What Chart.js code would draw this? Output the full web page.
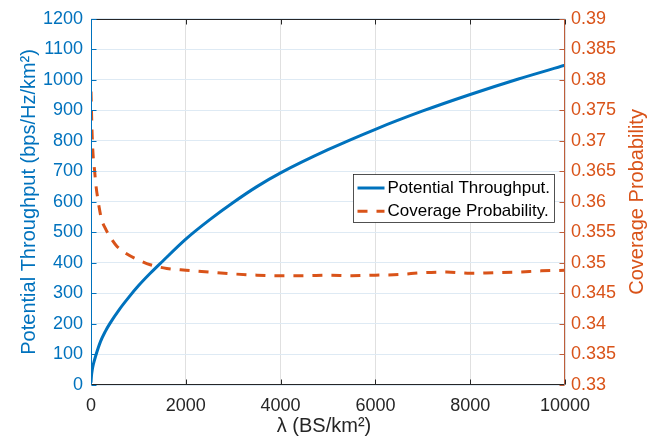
<!DOCTYPE html>
<html>
<head>
<meta charset="utf-8">
<title>Throughput and coverage vs BS density</title>
<script src="https://cdn.jsdelivr.net/npm/chart.js@4.4.1/dist/chart.umd.min.js"></script>
<style>
  html, body { margin: 0; padding: 0; background: #fff; }
  #wrap { width: 670px; height: 443px; }
</style>
</head>
<body>
<div id="wrap"><canvas id="plot" width="670" height="443"></canvas></div>
<script>
// BS density (BS/km^2) and the potential throughput curve
var lambdaThr  = [0, 10, 25, 50, 100, 200, 300, 400, 600, 800, 1000, 1250, 1500, 2000,
                  2500, 3000, 3500, 4000, 5000, 6000, 7000, 8000, 9000, 10000]
var throughput = [8, 30, 48, 68, 96, 142, 175, 202, 248, 288, 325, 366, 404, 478,
                  541, 598, 650, 695, 771, 838, 898, 952, 1002, 1048]

// coverage probability, sampled more densely near zero where it drops fast
var lambdaCov = [0, 10, 20, 35, 50, 75, 100, 130, 170, 220, 300, 400, 550, 750, 1000, 1250,
                 1600, 2000, 2500, 3000, 3500, 4000, 4500, 5000, 5500, 6000, 6500, 7000,
                 7500, 8000, 8500, 9000, 9500, 10000]
var coverage  = [0.3781, 0.3750, 0.3720, 0.3690, 0.3670, 0.3652, 0.3630, 0.3612, 0.3592,
                 0.3572, 0.3557, 0.3543, 0.3527, 0.3515, 0.3505, 0.3497, 0.3491, 0.3488,
                 0.3485, 0.3482, 0.3480, 0.3479, 0.3479, 0.3480, 0.3479, 0.3480, 0.3481,
                 0.3484, 0.3485, 0.3483, 0.3484, 0.3485, 0.3487, 0.3488]

var lambdaTicks = [0, 2000, 4000, 6000, 8000, 10000]
var thrTicks = [0, 100, 200, 300, 400, 500, 600, 700, 800, 900, 1000, 1100, 1200]
var covTicks = [0.33, 0.335, 0.34, 0.345, 0.35, 0.355, 0.36, 0.365, 0.37, 0.375, 0.38, 0.385, 0.39]

var BLUE = '#0072BD'
var ORANGE = '#D95319'
var DARK = '#262626'
var FONT = "'Liberation Sans', Arial, Helvetica, sans-serif"

Chart.defaults.font.family = FONT

function pts(xs, ys) {
  return xs.map(function (x, i) { return { x: x, y: ys[i] } })
}

// box, inward ticks, axis titles and the legend, drawn the matlab way
var axesDecor = {
  id: 'axesDecor',
  afterDraw: function (chart) {
    var ctx = chart.ctx, a = chart.chartArea, s = chart.scales
    var L = Math.round(a.left) + 0.5, R = Math.round(a.right) - 0.5
    var T = Math.round(a.top) + 0.5, B = Math.round(a.bottom) - 0.5
    var tk = 5
    ctx.save()
    ctx.lineWidth = 1

    function seg(x1, y1, x2, y2) {
      ctx.beginPath(); ctx.moveTo(x1, y1); ctx.lineTo(x2, y2); ctx.stroke()
    }

    ctx.strokeStyle = DARK
    seg(L, T, R, T)
    seg(L, B, R, B)
    s.x.ticks.forEach(function (t) {
      var px = Math.round(s.x.getPixelForValue(t.value)) + 0.5
      seg(px, B, px, B - tk)
      seg(px, T, px, T + tk)
    })

    ctx.strokeStyle = BLUE
    seg(L, T, L, B)
    s.y.ticks.forEach(function (t) {
      var py = Math.round(s.y.getPixelForValue(t.value)) + 0.5
      seg(L, py, L + tk, py)
    })

    ctx.strokeStyle = '#BE5E3A'
    seg(R, T, R, B)
    s.y1.ticks.forEach(function (t) {
      var py = Math.round(s.y1.getPixelForValue(t.value)) + 0.5
      seg(R, py, R - tk, py)
    })

    // axis titles
    var cy = (a.top + a.bottom) / 2
    ctx.font = '20px ' + FONT
    ctx.textAlign = 'center'
    ctx.textBaseline = 'alphabetic'

    ctx.fillStyle = DARK
    ctx.fillText('\u03bb (BS/km\u00b2)', (a.left + a.right) / 2 - 4, 432)

    ctx.save()
    ctx.translate(35, cy)
    ctx.rotate(-Math.PI / 2)
    ctx.fillStyle = BLUE
    ctx.fillText('Potential Throughput (bps/Hz/km\u00b2)', 0, 0)
    ctx.restore()

    ctx.save()
    ctx.translate(643, cy)
    ctx.rotate(-Math.PI / 2)
    ctx.fillStyle = ORANGE
    ctx.fillText('Coverage Probability', 0, 0)
    ctx.restore()

    // legend box inside the axes
    var bx = Math.round(a.left + 262) + 0.5, by = Math.round(a.top + 155) + 0.5
    var bw = 201, bh = 48
    ctx.fillStyle = '#fff'
    ctx.fillRect(bx, by, bw, bh)
    ctx.strokeStyle = DARK
    ctx.lineWidth = 0.8
    ctx.strokeRect(bx, by, bw, bh)

    ctx.font = '17px ' + FONT
    ctx.textAlign = 'left'
    ctx.textBaseline = 'middle'
    chart.data.datasets.forEach(function (ds, i) {
      var ry = by + 13.5 + i * 23.3
      ctx.save()
      ctx.strokeStyle = ds.borderColor
      ctx.lineWidth = ds.borderWidth
      ctx.setLineDash(ds.borderDash || [])
      seg(bx + 4, ry, bx + 31, ry)
      ctx.restore()
      ctx.fillStyle = '#000'
      ctx.fillText(ds.label, bx + 34, ry)
    })
    ctx.restore()
  }
}

new Chart(document.getElementById('plot').getContext('2d'), {
  type: 'line',
  data: {
    datasets: [
      {
        label: 'Potential Throughput.',
        data: pts(lambdaThr, throughput),
        yAxisID: 'y',
        borderColor: BLUE,
        borderWidth: 3,
        pointRadius: 0,
        cubicInterpolationMode: 'monotone',
        fill: false
      },
      {
        label: 'Coverage Probability.',
        data: pts(lambdaCov, coverage),
        yAxisID: 'y1',
        borderColor: ORANGE,
        borderWidth: 3,
        borderDash: [10, 9],
        pointRadius: 0,
        cubicInterpolationMode: 'monotone',
        fill: false
      }
    ]
  },
  options: {
    responsive: false,
    animation: false,
    devicePixelRatio: 1,
    layout: { padding: { top: 14, left: 0, right: 0, bottom: 0 } },
    plugins: { legend: { display: false }, tooltip: { enabled: false } },
    scales: {
      x: {
        type: 'linear',
        min: 0,
        max: 10000,
        afterBuildTicks: function (sc) { sc.ticks = lambdaTicks.map(function (v) { return { value: v } }) },
        afterFit: function (sc) { sc.height = 58 },
        grid: { color: '#e0e0e0', drawTicks: false },
        border: { display: false },
        ticks: {
          color: DARK,
          font: { size: 18 },
          padding: 10,
          maxRotation: 0,
          callback: function (v) { return String(v) }
        }
      },
      y: {
        position: 'left',
        min: 0,
        max: 1200,
        afterBuildTicks: function (sc) { sc.ticks = thrTicks.map(function (v) { return { value: v } }) },
        afterFit: function (sc) { sc.width = 91 },
        grid: { color: '#deeaf4', drawTicks: false },
        border: { display: false },
        ticks: {
          color: BLUE,
          font: { size: 18 },
          padding: 8,
          callback: function (v) { return String(v) }
        }
      },
      y1: {
        position: 'right',
        min: 0.33,
        max: 0.39,
        afterBuildTicks: function (sc) { sc.ticks = covTicks.map(function (v) { return { value: v } }) },
        afterFit: function (sc) { sc.width = 105 },
        grid: { display: false, drawTicks: false },
        border: { display: false },
        ticks: {
          color: ORANGE,
          font: { size: 18 },
          padding: 6,
          callback: function (v) { return String(v) }
        }
      }
    }
  },
  plugins: [axesDecor]
})
</script>
</body>
</html>
